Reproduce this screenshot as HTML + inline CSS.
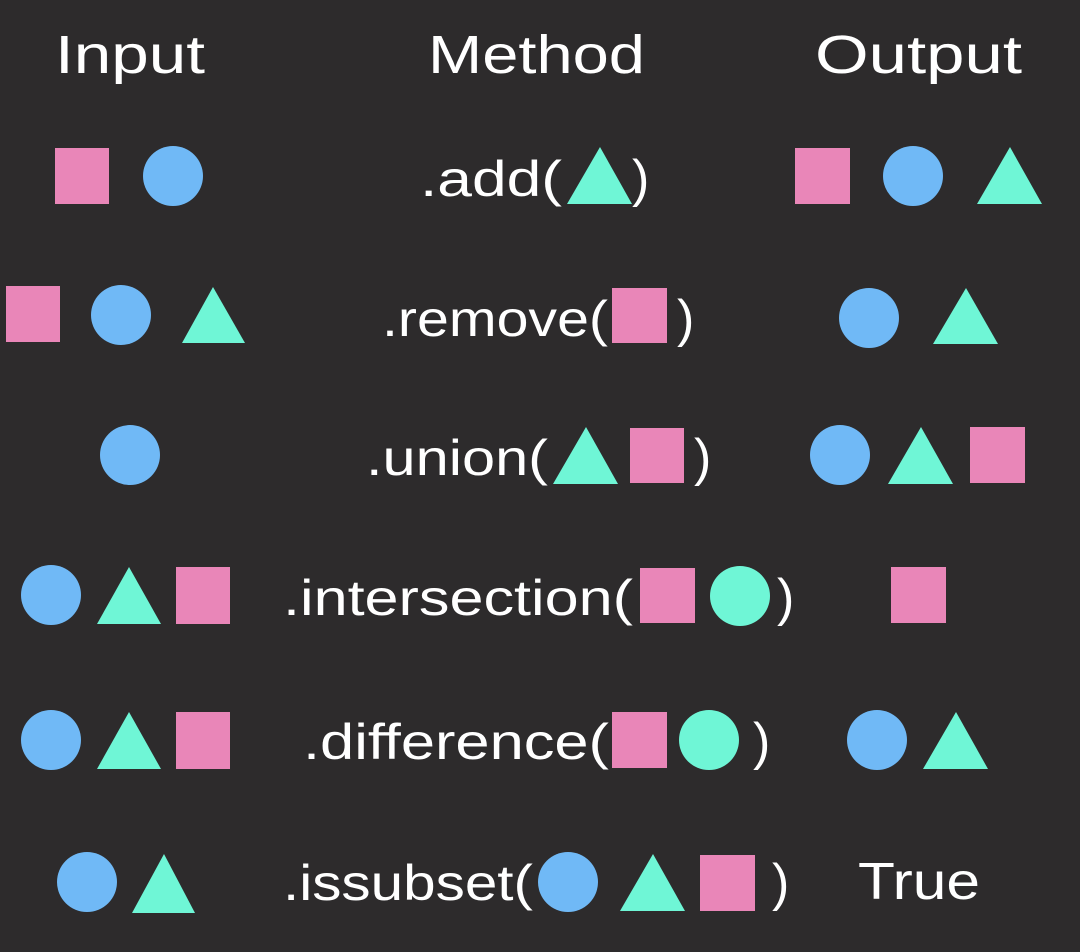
<!DOCTYPE html>
<html><head><style>
html,body{margin:0;padding:0;background:#2d2b2c;}
svg{display:block}
text{font-family:"Liberation Sans",sans-serif;fill:#fff;}
</style></head><body>
<svg width="1080" height="952" viewBox="0 0 1080 952" xmlns="http://www.w3.org/2000/svg">
<rect width="1080" height="952" fill="#2d2b2c"/>
<defs>
<style>.p{fill:#e986b8}.b{fill:#70b9f6}.t{fill:#6ff6d6}</style>
</defs>
<!-- headers -->
<text x="55" y="73" font-size="54" textLength="150" lengthAdjust="spacingAndGlyphs">Input</text>
<text x="428" y="73" font-size="54" textLength="217" lengthAdjust="spacingAndGlyphs">Method</text>
<text x="815" y="73" font-size="54" textLength="207" lengthAdjust="spacingAndGlyphs">Output</text>

<!-- Row 1 -->
<rect class="p" x="55" y="148" width="54" height="56"/>
<circle class="b" cx="173" cy="176" r="30"/>
<text x="420" y="196" font-size="50" textLength="142" lengthAdjust="spacingAndGlyphs">.add(</text>
<polygon class="t" points="567,204 632,204 600,147"/>
<text x="632" y="196" font-size="52">)</text>
<rect class="p" x="795" y="148" width="55" height="56"/>
<circle class="b" cx="913" cy="176" r="30"/>
<polygon class="t" points="977,204 1042,204 1010,147"/>

<!-- Row 2 -->
<rect class="p" x="6" y="286" width="54" height="56"/>
<circle class="b" cx="121" cy="315" r="30"/>
<polygon class="t" points="182,343 245,343 213,287"/>
<text x="382" y="336" font-size="50" textLength="226" lengthAdjust="spacingAndGlyphs">.remove(</text>
<rect class="p" x="612" y="288" width="55" height="55"/>
<text x="677" y="336" font-size="52">)</text>
<circle class="b" cx="869" cy="318" r="30"/>
<polygon class="t" points="933,344 998,344 966,288"/>

<!-- Row 3 -->
<circle class="b" cx="130" cy="455" r="30"/>
<text x="366" y="475" font-size="50" textLength="182" lengthAdjust="spacingAndGlyphs">.union(</text>
<polygon class="t" points="553,484 618,484 586,427"/>
<rect class="p" x="630" y="428" width="54" height="55"/>
<text x="694" y="475" font-size="52">)</text>
<circle class="b" cx="840" cy="455" r="30"/>
<polygon class="t" points="888,484 953,484 921,427"/>
<rect class="p" x="970" y="427" width="55" height="56"/>

<!-- Row 4 -->
<circle class="b" cx="51" cy="595" r="30"/>
<polygon class="t" points="97,624 161,624 129,567"/>
<rect class="p" x="176" y="567" width="54" height="57"/>
<text x="283" y="615" font-size="50" textLength="350" lengthAdjust="spacingAndGlyphs">.intersection(</text>
<rect class="p" x="640" y="568" width="55" height="55"/>
<circle class="t" cx="740" cy="596" r="30"/>
<text x="777" y="615" font-size="52">)</text>
<rect class="p" x="891" y="567" width="55" height="56"/>

<!-- Row 5 -->
<circle class="b" cx="51" cy="740" r="30"/>
<polygon class="t" points="97,769 161,769 129,712"/>
<rect class="p" x="176" y="712" width="54" height="57"/>
<text x="303" y="759" font-size="50" textLength="306" lengthAdjust="spacingAndGlyphs">.difference(</text>
<rect class="p" x="612" y="712" width="55" height="56"/>
<circle class="t" cx="709" cy="740" r="30"/>
<text x="753" y="759" font-size="52">)</text>
<circle class="b" cx="877" cy="740" r="30"/>
<polygon class="t" points="923,769 988,769 956,712"/>

<!-- Row 6 -->
<circle class="b" cx="87" cy="882" r="30"/>
<polygon class="t" points="132,913 195,913 164,854"/>
<text x="283" y="900" font-size="50" textLength="250" lengthAdjust="spacingAndGlyphs">.issubset(</text>
<circle class="b" cx="568" cy="882" r="30"/>
<polygon class="t" points="620,911 685,911 653,854"/>
<rect class="p" x="700" y="855" width="55" height="56"/>
<text x="772" y="900" font-size="52">)</text>
<text x="858" y="899" font-size="52" textLength="122" lengthAdjust="spacingAndGlyphs">True</text>
</svg>
</body></html>
